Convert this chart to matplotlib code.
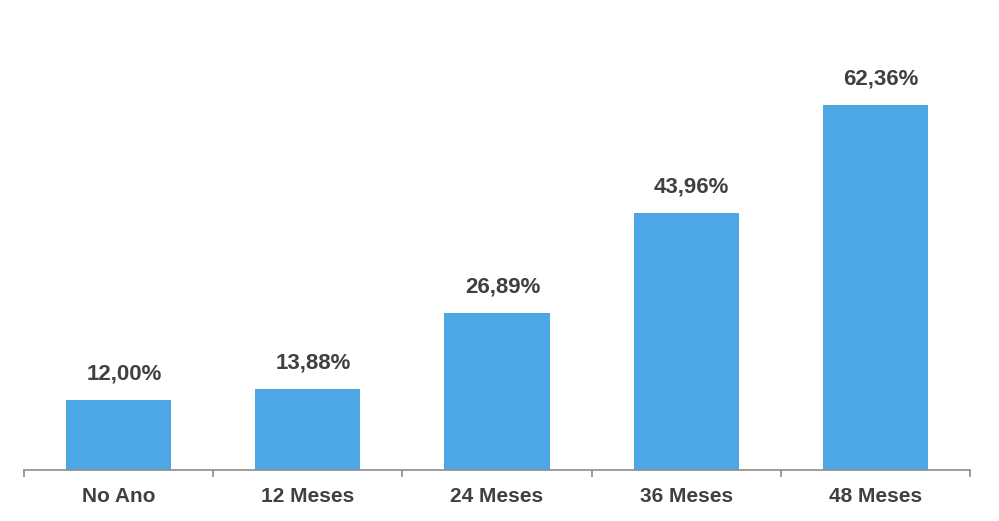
import matplotlib
matplotlib.use("Agg")
import matplotlib.pyplot as plt
import numpy as np

categories = ["No Ano", "12 Meses", "24 Meses", "36 Meses", "48 Meses"]
values = [12.00, 13.88, 26.89, 43.96, 62.36]
labels = ["12,00%", "13,88%", "26,89%", "43,96%", "62,36%"]

plt.rcParams['font.family'] = ['Liberation Sans', 'DejaVu Sans']

fig = plt.figure(figsize=(9.99, 5.21), dpi=100)
ax = fig.add_axes([24 / 999, 51 / 521, 946 / 999, 460 / 521])

x = np.arange(len(categories))
bars = ax.bar(x, values, width=0.555, color="#4DA7E4")

for b, lab in zip(bars, labels):
    ax.annotate(lab, (b.get_x() + b.get_width() / 2, b.get_height()),
                xytext=(4, 11), textcoords="offset points",
                ha="center", va="bottom", fontsize=16, fontweight="bold",
                color="#404040")

ax.set_xlim(-0.5, len(categories) - 0.5)
ax.set_ylim(0, 78.6)

for s in ["top", "right", "left"]:
    ax.spines[s].set_visible(False)
ax.spines["bottom"].set_color("#8C8C8C")
ax.spines["bottom"].set_linewidth(1.2)

ax.set_yticks([])
ax.set_xticks(x)
ax.set_xticklabels(categories, fontsize=15, fontweight="bold", color="#404040")
ax.tick_params(axis="x", which="major", length=0, pad=12)
ax.set_xticks(np.arange(-0.5, len(categories)), minor=True)
ax.tick_params(axis="x", which="minor", length=5, width=1.2, color="#8C8C8C", direction="out")

fig.savefig("out.png", dpi=100)
